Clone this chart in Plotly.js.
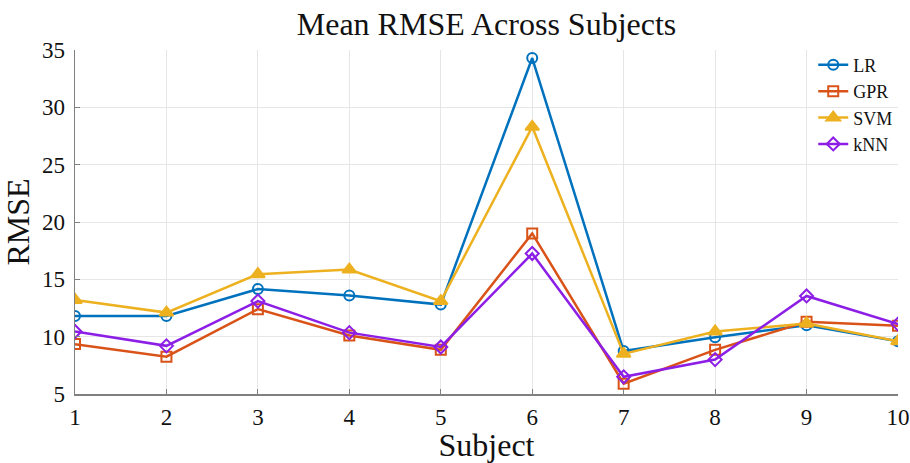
<!DOCTYPE html>
<html>
<head>
<meta charset="utf-8">
<script src="https://cdn.plot.ly/plotly-3.0.1.min.js"></script>
<style>
html,body{margin:0;padding:0;overflow:hidden;background:#fff;}
#chart{width:910px;height:463px;}
</style>
</head>
<body>
<div id="chart"></div>
<script>
const subjects = [1, 2, 3, 4, 5, 6, 7, 8, 9, 10];
const lrValues  = [11.8, 11.8, 14.15, 13.6, 12.8, 34.3, 8.75, 9.95, 11.0, 9.6];
const gprValues = [9.35, 8.25, 12.4, 10.1, 8.85, 19.0, 5.9, 8.85, 11.3, 10.95];
const svmValues = [13.2, 12.1, 15.45, 15.85, 13.1, 28.3, 8.5, 10.45, 11.15, 9.6];
const knnValues = [10.45, 9.2, 13.1, 10.35, 9.1, 17.25, 6.5, 8.0, 13.55, 11.1];
const seriesNames = ['LR', 'GPR', 'SVM', 'kNN'];
const yTicks = [5, 10, 15, 20, 25, 30, 35];

const colors = ['#0072BD', '#D95319', '#EDB120', '#8C1EE6'];
const symbols = ['circle-open', 'square-open', 'triangle-up', 'diamond-open'];
const values = [lrValues, gprValues, svmValues, knnValues];

const traces = values.map((v, i) => ({
  x: subjects,
  y: v,
  name: seriesNames[i],
  type: 'scatter',
  mode: 'lines+markers',
  line: {color: colors[i], width: 2.5},
  marker: {symbol: symbols[i], size: i === 2 ? 12 : 10, color: colors[i],
           line: {color: colors[i], width: 2}}
}));

const serif = 'Liberation Serif, Times New Roman, serif';
const layout = {
  width: 910, height: 463,
  margin: {l: 75, r: 12, t: 50, b: 69},
  paper_bgcolor: '#fff', plot_bgcolor: '#fff',
  font: {family: serif, color: '#111'},
  title: {text: 'Mean RMSE Across Subjects', font: {size: 32, family: serif, color: '#111'},
          x: 0.5, xref: 'paper', y: 1 - 24/463, yanchor: 'middle'},
  xaxis: {
    range: [1, 10], tickvals: subjects, ticktext: subjects.map(String),
    showgrid: true, gridcolor: '#e6e6e6', gridwidth: 1,
    showline: true, linecolor: '#808080', linewidth: 1.5,
    ticks: 'inside', ticklen: 5, tickcolor: '#808080',
    tickfont: {size: 23, family: serif, color: '#111'},
    ticklabelstandoff: 2,
    zeroline: false,
    title: {text: 'Subject', font: {size: 32, family: serif, color: '#111'}, standoff: 2}
  },
  yaxis: {
    range: [5, 35], tickvals: yTicks,
    showgrid: true, gridcolor: '#e6e6e6', gridwidth: 1,
    showline: true, linecolor: '#808080', linewidth: 1.5,
    ticks: 'inside', ticklen: 5, tickcolor: '#808080',
    tickfont: {size: 23, family: serif, color: '#111'},
    ticklabelstandoff: 4,
    zeroline: false,
    title: {text: 'RMSE', font: {size: 32, family: serif, color: '#111'}, standoff: 4}
  },
  legend: {
    x: 0.897, y: 1.01, xanchor: 'left', yanchor: 'top',
    bgcolor: 'rgba(255,255,255,0)', borderwidth: 0,
    font: {size: 18, family: serif, color: '#111'},
    tracegroupgap: 0
  },
  showlegend: true
};

Plotly.newPlot('chart', traces, layout, {displayModeBar: false, staticPlot: true});
</script>
</body>
</html>
